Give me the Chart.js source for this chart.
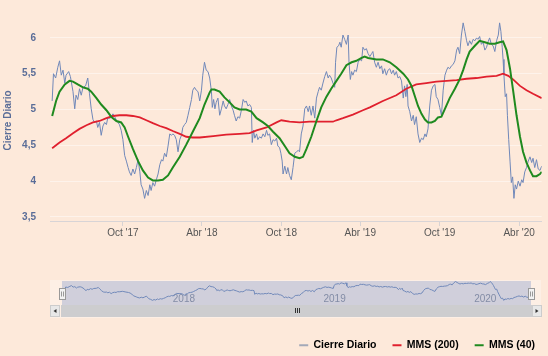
<!DOCTYPE html>
<html><head><meta charset="utf-8">
<script src="https://cdn.jsdelivr.net/npm/chart.js@4.4.1/dist/chart.umd.min.js"></script>
<style>
html,body{margin:0;padding:0;background:#fde9da;}
#wrap{position:relative;width:548px;height:356px;overflow:hidden;background:#fde9da;}
#main{position:absolute;left:0;top:0;}
#nav{position:absolute;left:0;top:270px;}
</style></head><body>
<div id="wrap"><canvas id="main" width="548" height="356"></canvas><canvas id="nav" width="548" height="50"></canvas></div>
<script>
// x values are days since 2017-01-01
const closeDays = [110,113,118,123,127,131,135,139,142,148,152,158,162,165,169,173,177,181,187,192,196,200,204,208,212,215,219,223,227,231,235,238,244,250,254,259,265,269,273,277,281,285,288,292,296,300,304,308,312,315,319,323,327,331,335,338,342,346,350,354,358,362,365,369,373,377,381,385,388,392,396,400,404,408,411,415,419,423,427,431,434,438,442,446,450,454,457,461,465,469,473,477,479,482,485,488,492,496,500,504,507,511,515,519,523,527,530,534,538,542,546,550,554,557,561,565,569,571,574,577,581,584,588,592,596,600,604,607,611,615,619,623,627,630,634,637,640,642,646,650,653,657,661,665,669,673,677,680,684,688,692,696,700,703,707,711,715,719,723,726,730,734,738,742,746,749,753,757,761,763,766,770,773,776,780,784,788,792,794,797,800,803,807,811,815,819,823,826,830,834,838,842,846,849,853,857,861,865,869,872,876,880,884,888,892,896,899,903,907,911,915,919,922,925,928,930,934,938,942,945,949,953,957,961,965,969,972,976,980,984,988,992,995,999,1003,1007,1011,1015,1019,1022,1026,1030,1034,1038,1042,1045,1049,1053,1057,1061,1065,1068,1072,1076,1080,1084,1088,1091,1095,1099,1103,1107,1111,1114,1118,1122,1126,1130,1134,1138,1141,1144,1147,1149,1151,1154,1157,1159,1162,1165,1168,1171,1174,1177,1180,1184,1188,1192,1195,1199,1203,1207,1211,1215,1218,1222,1226,1230,1234,1238];
const closeValues = [5.12,5.50,5.44,5.59,5.68,5.48,5.55,5.37,5.48,5.53,5.46,5.25,5.01,5.20,5.14,5.29,5.20,5.31,5.33,5.44,5.22,5.01,4.86,4.82,4.84,4.75,4.82,4.64,4.77,4.82,4.79,4.88,4.88,4.94,4.90,4.84,4.79,4.71,4.58,4.36,4.28,4.19,4.13,4.08,4.17,4.10,4.19,4.30,4.13,3.95,3.89,3.76,3.87,3.80,3.95,3.87,3.98,3.93,4.02,4.10,4.23,4.30,4.28,4.39,4.34,4.49,4.66,4.64,4.66,4.64,4.58,4.41,4.58,4.64,4.75,4.79,4.82,4.92,5.03,5.14,5.27,5.31,5.27,5.25,5.12,5.27,5.48,5.66,5.55,5.53,5.44,5.25,5.03,5.14,5.01,5.10,5.16,4.92,5.01,5.12,5.05,5.01,5.07,5.14,5.05,4.99,4.92,4.84,4.90,4.88,4.99,5.14,5.10,5.12,5.05,5.07,5.03,4.54,4.71,4.60,4.66,4.58,4.62,4.60,4.66,4.62,4.71,4.64,4.66,4.51,4.58,4.56,4.60,4.49,4.47,4.39,4.28,4.10,4.21,4.10,4.19,4.08,4.02,4.19,4.39,4.41,4.43,4.41,4.66,4.77,5.01,5.05,4.97,5.05,4.92,5.05,4.88,5.16,5.25,5.31,5.27,5.37,5.46,5.53,5.44,5.48,5.44,5.37,5.31,5.66,5.87,5.89,5.94,5.87,6.04,5.98,5.91,6.04,5.66,5.42,5.53,5.48,5.55,5.53,5.66,5.70,5.68,5.87,5.83,5.85,5.78,5.74,5.78,5.81,5.66,5.59,5.66,5.57,5.61,5.50,5.57,5.48,5.55,5.57,5.50,5.55,5.48,5.53,5.44,5.46,5.40,5.16,5.33,5.18,5.35,5.05,4.97,4.84,4.92,4.79,4.90,4.66,4.54,4.60,4.58,4.66,4.62,4.73,5.05,5.27,5.33,5.35,5.18,5.14,5.03,4.92,5.27,5.48,5.55,5.59,5.57,5.61,5.63,5.68,5.83,5.87,5.78,6.04,6.21,6.09,5.96,5.89,5.96,5.91,5.98,5.96,6.00,5.98,6.02,5.91,5.94,5.83,5.87,5.94,6.00,5.91,5.89,5.81,5.96,6.04,6.21,6.09,5.87,5.70,5.48,5.18,5.22,4.92,4.58,4.28,3.98,4.06,3.76,3.95,3.89,4.00,3.93,4.02,3.98,4.13,4.19,4.28,4.34,4.26,4.32,4.19,4.30,4.17,4.15,4.21];
const mms200Days = [110,127,142,158,173,189,204,219,235,250,265,281,296,312,327,342,358,373,388,404,419,434,450,481,511,542,565,581,604,627,638,657,680,703,726,757,765,780,803,826,842,872,903,926,949,972,995,1019,1042,1065,1088,1111,1134,1149,1161,1172,1188,1203,1218,1238];
const mms200Values = [4.46,4.54,4.60,4.67,4.73,4.78,4.82,4.84,4.88,4.91,4.92,4.92,4.91,4.89,4.85,4.81,4.77,4.74,4.70,4.66,4.62,4.61,4.61,4.63,4.65,4.66,4.67,4.71,4.75,4.82,4.85,4.83,4.82,4.83,4.83,4.83,4.85,4.88,4.93,4.99,5.03,5.12,5.20,5.29,5.35,5.37,5.39,5.40,5.41,5.43,5.44,5.46,5.47,5.50,5.47,5.42,5.33,5.27,5.22,5.16];
const mms40Days = [110,119,127,139,150,158,169,181,192,200,212,223,235,246,258,269,277,285,296,308,319,331,342,354,365,377,388,404,419,434,450,461,473,477,484,496,507,519,530,542,557,569,581,596,607,619,634,646,657,669,680,688,696,707,719,730,742,753,765,776,788,800,811,823,830,838,857,872,888,903,919,930,938,945,953,961,969,976,984,992,999,1007,1015,1026,1038,1049,1057,1065,1072,1084,1095,1107,1118,1130,1141,1149,1157,1165,1172,1180,1188,1195,1203,1211,1218,1226,1234,1238];
const mms40Values = [4.91,5.12,5.25,5.35,5.40,5.39,5.35,5.31,5.29,5.25,5.16,5.07,4.99,4.90,4.84,4.82,4.75,4.62,4.45,4.28,4.15,4.05,4.01,4.01,4.02,4.08,4.19,4.34,4.51,4.69,4.88,5.07,5.24,5.28,5.28,5.25,5.17,5.10,5.03,5.00,5.00,4.97,4.88,4.82,4.77,4.69,4.60,4.49,4.39,4.34,4.32,4.34,4.45,4.62,4.84,5.03,5.18,5.29,5.40,5.50,5.62,5.66,5.68,5.72,5.74,5.72,5.70,5.70,5.66,5.59,5.50,5.42,5.33,5.20,5.05,4.94,4.86,4.82,4.82,4.84,4.89,4.90,5.01,5.16,5.29,5.42,5.55,5.70,5.81,5.89,5.96,5.94,5.92,5.92,5.94,5.95,5.83,5.57,5.27,4.92,4.62,4.41,4.26,4.15,4.07,4.07,4.10,4.13];
const seriesNames = ['Cierre Diario', 'MMS (200)', 'MMS (40)'];
const yTicks = [3.5, 4, 4.5, 5, 5.5, 6];
const xTickDays = [273, 455, 638, 820, 1003, 1186];
const xTickLabels = ["Oct '17", "Abr '18", "Oct '18", "Abr '19", "Oct '19", "Abr '20"];
const navTickDays = [365, 730, 1095];
const navTickLabels = ['2018', '2019', '2020'];

const FONT = "'Liberation Sans', Arial, sans-serif";
Chart.defaults.font.family = FONT;
const toPts = (xs, ys) => xs.map((x, i) => ({x: x, y: ys[i]}));
const lineColors = ['#7088b9', '#e0202e', '#1f8a1f'];
const legendColors = ['#a3a9b8', '#e0202e', '#1f8a1f'];
const axisBlue = '#5a6d98';

new Chart(document.getElementById('main'), {
  type: 'line',
  data: {datasets: [
    {label: seriesNames[0], data: toPts(closeDays, closeValues), borderColor: lineColors[0], borderWidth: 1, pointRadius: 0, order: 3},
    {label: seriesNames[1], data: toPts(mms200Days, mms200Values), borderColor: lineColors[1], borderWidth: 1.8, pointRadius: 0, order: 2},
    {label: seriesNames[2], data: toPts(mms40Days, mms40Values), borderColor: lineColors[2], borderWidth: 2, pointRadius: 0, order: 1}
  ]},
  options: {
    responsive: false, animation: false, devicePixelRatio: 1,
    layout: {padding: {left: 0, right: -3, top: 4, bottom: 2}},
    plugins: {
      tooltip: {enabled: false},
      legend: {
        position: 'bottom', align: 'end', maxHeight: 30,
        labels: {
          boxWidth: 9, boxHeight: 2, padding: 16, color: '#222',
          font: {family: FONT, size: 10.5, weight: 'bold'},
          generateLabels: () => seriesNames.map((t, i) => ({text: t, fillStyle: legendColors[i], strokeStyle: legendColors[i], lineWidth: 0, hidden: false, datasetIndex: i}))
        }
      }
    },
    scales: {
      x: {
        type: 'linear', min: 105, max: 1238,
        afterBuildTicks: s => { s.ticks = xTickDays.map(v => ({value: v})); },
        afterFit: s => { s.height = 103; },
        ticks: {autoSkip: false, maxRotation: 0, padding: 1, color: '#555', font: {family: FONT, size: 10}, callback: (v, i) => xTickLabels[i]},
        grid: {drawOnChartArea: false, drawTicks: true, tickLength: 5, color: '#d8d3d3'},
        border: {display: true, color: '#d8d4d6', width: 1}
      },
      y: {
        min: 3.444, max: 6.25,
        afterBuildTicks: s => { s.ticks = yTicks.map(v => ({value: v})); },
        afterFit: s => { s.width = 50; },
        ticks: {padding: 14, color: axisBlue, font: {family: FONT, size: 10, weight: 'bold'}, callback: v => String(v).replace('.', ',')},
        grid: {drawTicks: false, color: 'rgba(255,255,255,0.45)', lineWidth: 1},
        border: {display: false},
        title: {display: true, text: 'Cierre Diario', color: axisBlue, font: {family: FONT, size: 10, weight: 'bold'}, padding: {top: 2, bottom: 0}}
      },
      yR: {
        type: 'linear', axis: 'y', position: 'right', display: true,
        ticks: {display: false}, grid: {display: false, drawTicks: false}, border: {display: false},
        afterFit: s => { s.width = 9.3; }
      }
    }
  }
});

const navPlugin = {
  id: 'navDecor',
  beforeDraw(c) {
    const ctx = c.ctx, a = c.chartArea;
    ctx.save();
    ctx.fillStyle = 'rgba(255,255,255,0.3)';
    ctx.fillRect(a.left - 12, a.top - 1, (a.right - a.left) + 22, (a.bottom - a.top) + 14);
    ctx.restore();
  },
  beforeDatasetsDraw(c) {
    const ctx = c.ctx, a = c.chartArea;
    ctx.save();
    ctx.fillStyle = 'rgba(102,133,194,0.3)';
    ctx.fillRect(a.left, a.top, a.right - a.left, a.bottom - a.top);
    ctx.restore();
  },
  afterDraw(c) {
    const ctx = c.ctx, a = c.chartArea;
    const sy = a.bottom, sh = 12;
    ctx.save();
    ctx.fillStyle = '#cdcdcf';
    ctx.fillRect(a.left - 1, sy, (a.right - a.left) + 2, sh);
    const btn = (x, dir) => {
      ctx.fillStyle = '#e8e8e8';
      ctx.fillRect(x, sy, 10, sh);
      ctx.strokeStyle = '#cccccc'; ctx.lineWidth = 1;
      ctx.strokeRect(x + 0.5, sy + 0.5, 9, sh - 1);
      ctx.fillStyle = '#333';
      ctx.beginPath();
      const cx = x + 5, cy = sy + sh / 2;
      ctx.moveTo(cx - 1.5 * dir, cy);
      ctx.lineTo(cx + 1.5 * dir, cy - 2);
      ctx.lineTo(cx + 1.5 * dir, cy + 2);
      ctx.closePath(); ctx.fill();
    };
    btn(a.left - 12, 1);
    btn(a.right + 1, -1);
    const gx = Math.round((a.left + a.right) / 2) + 0.5;
    ctx.strokeStyle = '#333'; ctx.lineWidth = 1;
    ctx.beginPath();
    for (const o of [-2, 0, 2]) { ctx.moveTo(gx + o, sy + 3); ctx.lineTo(gx + o, sy + 8); }
    ctx.stroke();
    const hy = Math.round((a.top + a.bottom) / 2 - 5.5) + 0.5;
    for (const hx of [a.left, a.right]) {
      const x0 = Math.round(hx - 3) + 0.5;
      ctx.fillStyle = '#f2f2f2'; ctx.strokeStyle = '#999';
      ctx.fillRect(x0, hy, 6, 11); ctx.strokeRect(x0, hy, 6, 11);
      ctx.beginPath();
      ctx.moveTo(x0 + 2, hy + 3); ctx.lineTo(x0 + 2, hy + 8);
      ctx.moveTo(x0 + 4, hy + 3); ctx.lineTo(x0 + 4, hy + 8);
      ctx.stroke();
    }
    ctx.restore();
  }
};

new Chart(document.getElementById('nav'), {
  type: 'line',
  data: {datasets: [{label: seriesNames[0], data: toPts(closeDays, closeValues), borderColor: '#7088b9', borderWidth: 1, pointRadius: 0}]},
  options: {
    responsive: false, animation: false, devicePixelRatio: 1,
    layout: {padding: {left: 62, right: 17, top: 11, bottom: 0}},
    plugins: {legend: {display: false}, tooltip: {enabled: false}},
    scales: {
      x: {
        type: 'linear', min: 104, max: 1240,
        afterBuildTicks: s => { s.ticks = navTickDays.map(v => ({value: v})); },
        afterFit: s => { s.height = 15; },
        ticks: {mirror: true, align: 'start', labelOffset: 3, padding: 0, autoSkip: false, maxRotation: 0, color: '#8f8f99', font: {family: FONT, size: 10}, callback: (v, i) => navTickLabels[i]},
        grid: {display: false, drawTicks: false},
        border: {display: false}
      },
      y: {display: false, min: 3.16, max: 6.28}
    }
  },
  plugins: [navPlugin]
});
</script>
</body></html>
